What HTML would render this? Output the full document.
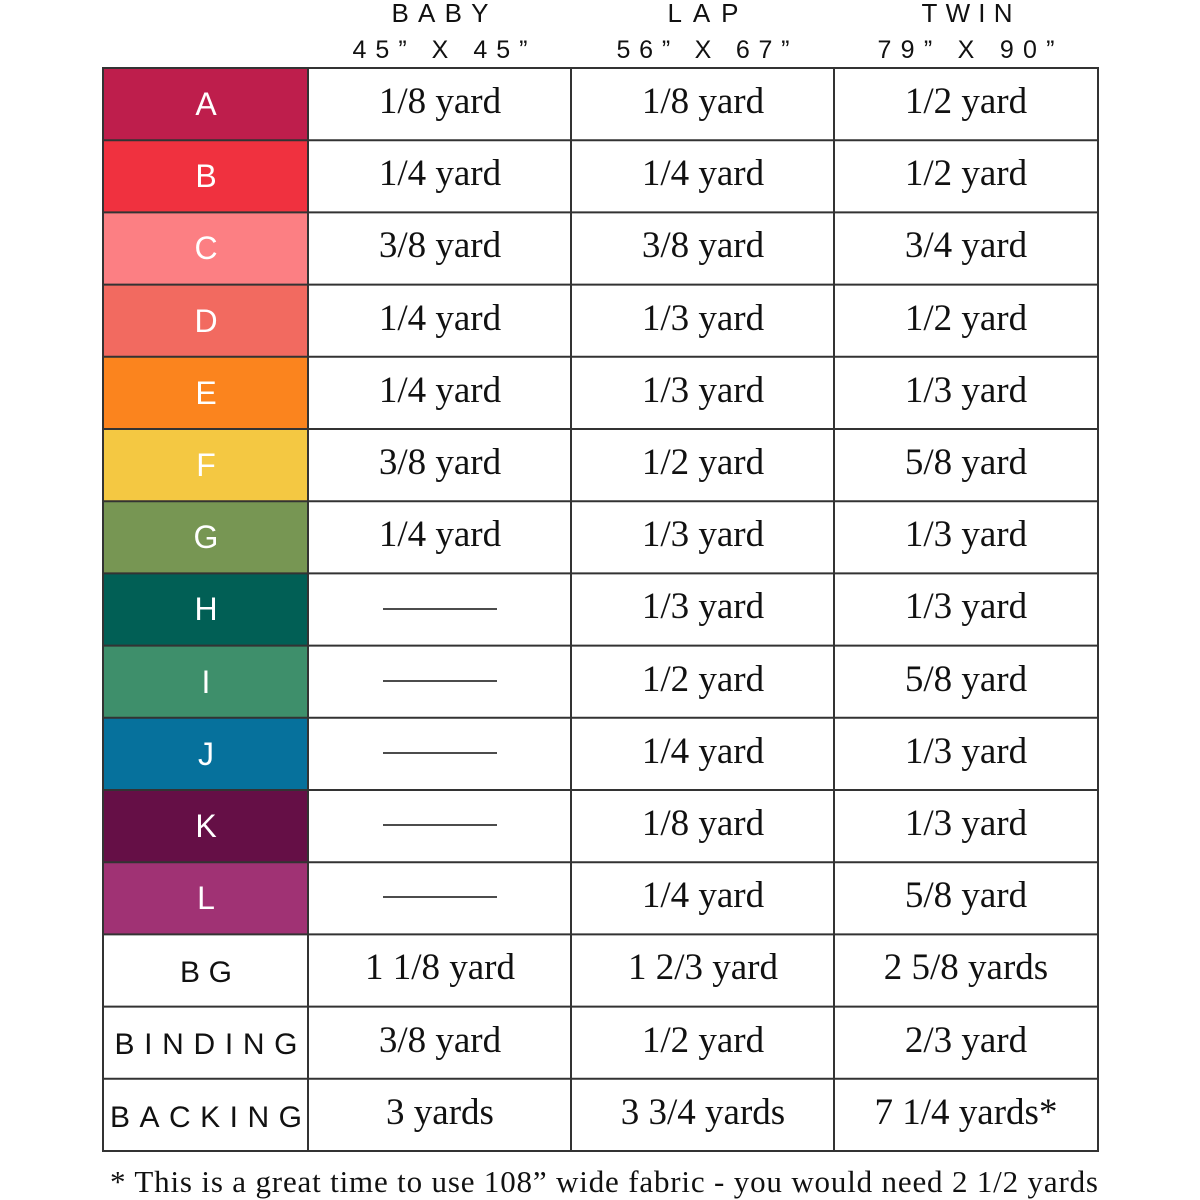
<!DOCTYPE html>
<html><head><meta charset="utf-8"><style>html,body{margin:0;padding:0;background:#fff}svg{display:block}</style></head>
<body>
<svg width="1200" height="1200" viewBox="0 0 1200 1200" xmlns="http://www.w3.org/2000/svg">
<g font-family="Liberation Sans, sans-serif" fill="#111" text-anchor="middle">
<text x="440" y="22" font-size="26" textLength="97" lengthAdjust="spacing">BABY</text>
<text x="703" y="22" font-size="26" textLength="71" lengthAdjust="spacing">LAP</text>
<text x="967" y="22" font-size="26" textLength="91" lengthAdjust="spacing">TWIN</text>
<text x="440" y="58" font-size="25" textLength="175" lengthAdjust="spacing">45” X 45”</text>
<text x="703" y="58" font-size="25" textLength="173" lengthAdjust="spacing">56” X 67”</text>
<text x="966" y="58" font-size="25" textLength="177" lengthAdjust="spacing">79” X 90”</text>
</g>
<g>
<rect x="103" y="68" width="205" height="72.2" fill="#BE1E4C"/>
<rect x="103" y="140.2" width="205" height="72.2" fill="#F0313F"/>
<rect x="103" y="212.4" width="205" height="72.2" fill="#FC7F83"/>
<rect x="103" y="284.6" width="205" height="72.2" fill="#F26A60"/>
<rect x="103" y="356.8" width="205" height="72.2" fill="#FB841E"/>
<rect x="103" y="429" width="205" height="72.2" fill="#F4C842"/>
<rect x="103" y="501.2" width="205" height="72.2" fill="#779653"/>
<rect x="103" y="573.4" width="205" height="72.2" fill="#015F55"/>
<rect x="103" y="645.6" width="205" height="72.2" fill="#3E8F6B"/>
<rect x="103" y="717.8" width="205" height="72.2" fill="#06719C"/>
<rect x="103" y="790" width="205" height="72.2" fill="#650F46"/>
<rect x="103" y="862.2" width="205" height="72.2" fill="#A03274"/>
</g>
<g font-family="Liberation Sans, sans-serif" font-size="32" fill="#fff" text-anchor="middle">
<text x="206" y="115">A</text>
<text x="206" y="187">B</text>
<text x="206" y="259">C</text>
<text x="206" y="332">D</text>
<text x="206" y="404">E</text>
<text x="206" y="476">F</text>
<text x="206" y="548">G</text>
<text x="206" y="620">H</text>
<text x="206" y="693">I</text>
<text x="206" y="765">J</text>
<text x="206" y="837">K</text>
<text x="206" y="909">L</text>
</g>
<g font-family="Liberation Sans, sans-serif" font-size="30" fill="#111" text-anchor="middle">
<text x="206" y="982" textLength="52" lengthAdjust="spacing">BG</text>
<text x="206" y="1054" textLength="183" lengthAdjust="spacing">BINDING</text>
<text x="206" y="1127" textLength="192" lengthAdjust="spacing">BACKING</text>
</g>
<g font-family="Liberation Serif, serif" font-size="37" fill="#111" text-anchor="middle">
<text x="440" y="113">1/8 yard</text><text x="703" y="113">1/8 yard</text><text x="966" y="113">1/2 yard</text>
<text x="440" y="185">1/4 yard</text><text x="703" y="185">1/4 yard</text><text x="966" y="185">1/2 yard</text>
<text x="440" y="257">3/8 yard</text><text x="703" y="257">3/8 yard</text><text x="966" y="257">3/4 yard</text>
<text x="440" y="330">1/4 yard</text><text x="703" y="330">1/3 yard</text><text x="966" y="330">1/2 yard</text>
<text x="440" y="402">1/4 yard</text><text x="703" y="402">1/3 yard</text><text x="966" y="402">1/3 yard</text>
<text x="440" y="474">3/8 yard</text><text x="703" y="474">1/2 yard</text><text x="966" y="474">5/8 yard</text>
<text x="440" y="546">1/4 yard</text><text x="703" y="546">1/3 yard</text><text x="966" y="546">1/3 yard</text>
<text x="703" y="618">1/3 yard</text><text x="966" y="618">1/3 yard</text>
<text x="703" y="691">1/2 yard</text><text x="966" y="691">5/8 yard</text>
<text x="703" y="763">1/4 yard</text><text x="966" y="763">1/3 yard</text>
<text x="703" y="835">1/8 yard</text><text x="966" y="835">1/3 yard</text>
<text x="703" y="907">1/4 yard</text><text x="966" y="907">5/8 yard</text>
<text x="440" y="979">1 1/8 yard</text><text x="703" y="979">1 2/3 yard</text><text x="966" y="979">2 5/8 yards</text>
<text x="440" y="1052">3/8 yard</text><text x="703" y="1052">1/2 yard</text><text x="966" y="1052">2/3 yard</text>
<text x="440" y="1124">3 yards</text><text x="703" y="1124">3 3/4 yards</text><text x="966" y="1124">7 1/4 yards*</text>
</g>
<g stroke="#111" stroke-width="1.6">
<line x1="383" x2="497" y1="609" y2="609"/>
<line x1="383" x2="497" y1="681" y2="681"/>
<line x1="383" x2="497" y1="753" y2="753"/>
<line x1="383" x2="497" y1="825" y2="825"/>
<line x1="383" x2="497" y1="897" y2="897"/>
</g>
<g stroke="#333" stroke-width="2">
<line x1="102" x2="1099" y1="68" y2="68"/>
<line x1="102" x2="1099" y1="140.2" y2="140.2"/>
<line x1="102" x2="1099" y1="212.4" y2="212.4"/>
<line x1="102" x2="1099" y1="284.6" y2="284.6"/>
<line x1="102" x2="1099" y1="356.8" y2="356.8"/>
<line x1="102" x2="1099" y1="429" y2="429"/>
<line x1="102" x2="1099" y1="501.2" y2="501.2"/>
<line x1="102" x2="1099" y1="573.4" y2="573.4"/>
<line x1="102" x2="1099" y1="645.6" y2="645.6"/>
<line x1="102" x2="1099" y1="717.8" y2="717.8"/>
<line x1="102" x2="1099" y1="790" y2="790"/>
<line x1="102" x2="1099" y1="862.2" y2="862.2"/>
<line x1="102" x2="1099" y1="934.4" y2="934.4"/>
<line x1="102" x2="1099" y1="1006.6" y2="1006.6"/>
<line x1="102" x2="1099" y1="1078.8" y2="1078.8"/>
<line x1="102" x2="1099" y1="1151" y2="1151"/>
<line x1="103" x2="103" y1="68" y2="1151"/>
<line x1="308" x2="308" y1="68" y2="1151"/>
<line x1="571" x2="571" y1="68" y2="1151"/>
<line x1="834" x2="834" y1="68" y2="1151"/>
<line x1="1098" x2="1098" y1="68" y2="1151"/>
</g>
<text x="110" y="1192" font-family="Liberation Serif, serif" font-size="31" fill="#111" textLength="988" lengthAdjust="spacing">* This is a great time to use 108” wide fabric - you would need 2 1/2 yards</text>
</svg>
</body></html>
